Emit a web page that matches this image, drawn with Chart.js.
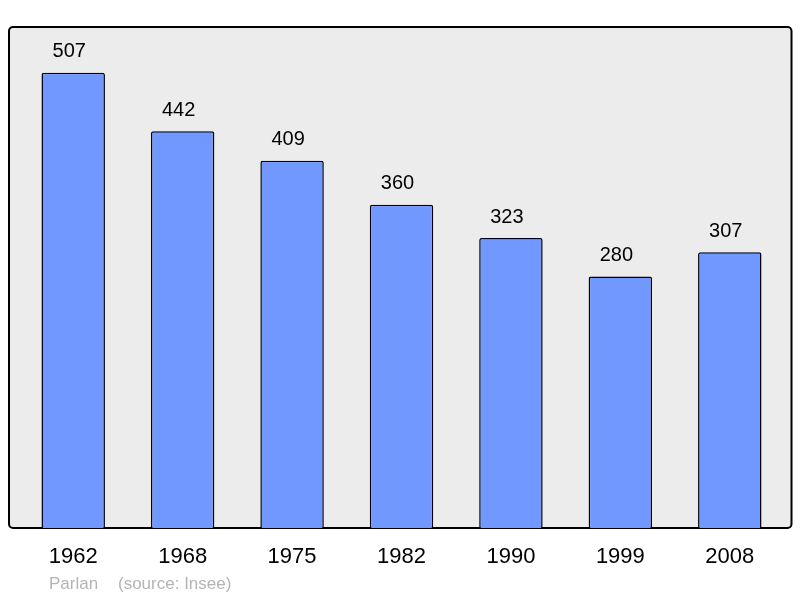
<!DOCTYPE html>
<html>
<head>
<meta charset="utf-8">
<script src="https://cdn.jsdelivr.net/npm/chart.js@4/dist/chart.umd.min.js"></script>
<style>
  html, body { margin: 0; padding: 0; background: #fff; }
  #wrap { width: 800px; height: 598px; }
</style>
</head>
<body>
<div id="wrap"><canvas id="chart"></canvas></div>
<script>
const years = ["1962", "1968", "1975", "1982", "1990", "1999", "2008"];
const population = [507, 442, 409, 360, 323, 280, 307];
const commune = "Parlan";
const source = "(source: Insee)";

// grey rounded frame behind the bars
const framePlugin = {
  id: "frame",
  beforeDatasetsDraw(chart) {
    const { ctx, chartArea } = chart;
    const x = chartArea.left - 9.5, y = chartArea.top;
    const w = chartArea.right + 7 - x, h = chartArea.bottom - y;
    ctx.save();
    ctx.beginPath();
    ctx.roundRect(x, y, w, h, 4);
    ctx.fillStyle = "#ececec";
    ctx.fill();
    ctx.lineWidth = 2;
    ctx.strokeStyle = "#000";
    ctx.stroke();
    ctx.restore();
  },
};

// value above every bar + footer text
const labelsPlugin = {
  id: "labels",
  afterDatasetsDraw(chart) {
    const { ctx } = chart;
    const meta = chart.getDatasetMeta(0);
    ctx.save();
    ctx.font = "20px 'Liberation Sans', Arial, sans-serif";
    ctx.fillStyle = "#000";
    ctx.textAlign = "center";
    ctx.textBaseline = "middle";
    meta.data.forEach((bar, i) => {
      ctx.fillText(String(population[i]), bar.x - 4, bar.y - 21);
    });
    ctx.font = "17px 'Liberation Sans', Arial, sans-serif";
    ctx.fillStyle = "#b4b4b4";
    ctx.textAlign = "left";
    ctx.fillText(commune, 49, 584);
    ctx.fillText(source, 118, 584);
    ctx.restore();
  },
};

const config = {
  type: "bar",
  data: {
    labels: years,
    datasets: [
      {
        data: population,
        backgroundColor: "rgb(112, 152, 255)",
        borderColor: "#000",
        borderWidth: 1.5,
        borderRadius: 2,
        borderSkipped: "bottom",
        barPercentage: 0.58,
        categoryPercentage: 1,
      },
    ],
  },
  options: {
    responsive: true,
    maintainAspectRatio: false,
    animation: false,
    layout: {
      padding: { left: 18.5, right: 15.5, top: 27, bottom: 0 },
    },
    scales: {
      x: {
        grid: { display: false },
        border: { display: false },
        ticks: {
          color: "#000",
          padding: 8,
          maxRotation: 0,
          font: { size: 22, family: "'Liberation Sans', Arial, sans-serif" },
        },
        afterFit(scale) {
          scale.height = 70;
        },
      },
      y: {
        display: false,
        min: 0,
        max: 558,
      },
    },
    plugins: {
      legend: { display: false },
      tooltip: { enabled: false },
    },
  },
  plugins: [framePlugin, labelsPlugin],
};

new Chart(document.getElementById("chart"), config);
</script>
</body>
</html>
